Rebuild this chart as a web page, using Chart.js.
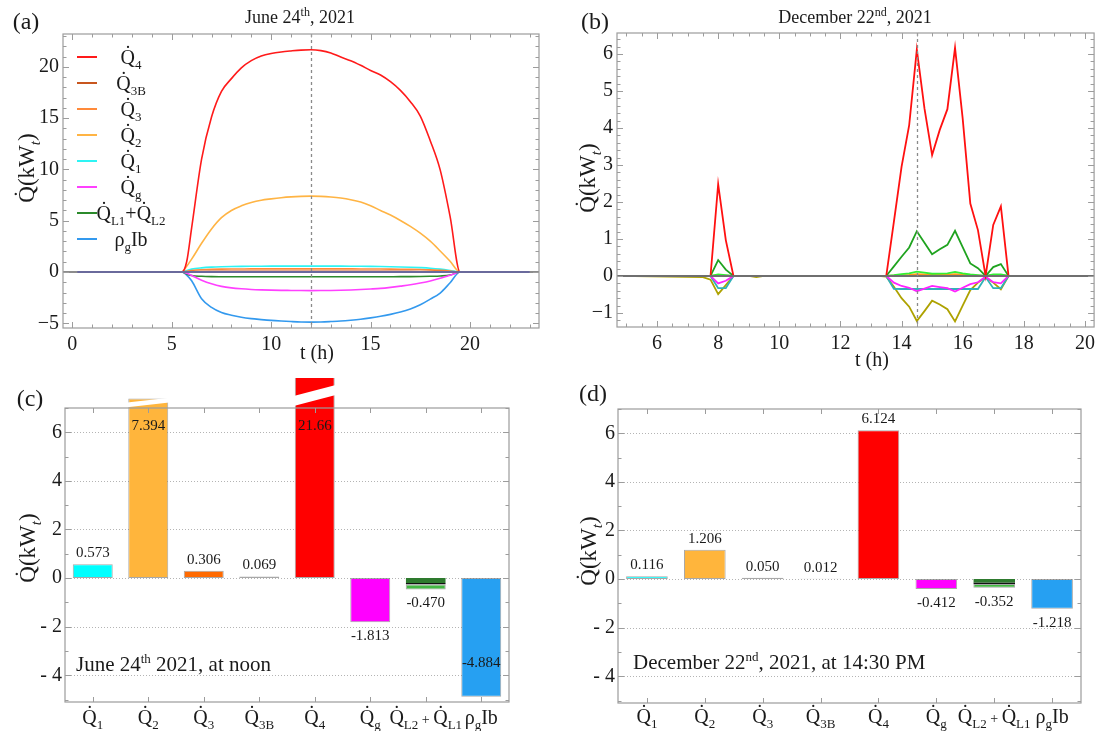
<!DOCTYPE html>
<html>
<head>
<meta charset="utf-8">
<title>Heat flows</title>
<script src="https://cdn.jsdelivr.net/npm/chart.js@4.4.1/dist/chart.umd.min.js"></script>
<style>
  html, body { margin: 0; padding: 0; background: #fff; overflow: hidden; }
  #page { position: relative; width: 1097px; height: 731px; overflow: hidden; }
  .pane { position: absolute; }
</style>
</head>
<body>
<div id="page">
  <div class="pane" style="left:0;top:0;width:555px;height:378px"><canvas id="chartA"></canvas></div>
  <div class="pane" style="left:555px;top:0;width:545px;height:378px"><canvas id="chartB"></canvas></div>
  <div class="pane" style="left:0;top:378px;width:555px;height:353px"><canvas id="chartC"></canvas></div>
  <div class="pane" style="left:555px;top:378px;width:545px;height:353px"><canvas id="chartD"></canvas></div>
</div>
<script>
// --- (a) June 24th, hourly profile ---
const timesA = [0.25, 5.5, 5.75, 6, 6.5, 7, 7.5, 8, 8.5, 9, 9.5, 10, 10.5, 11, 11.5, 12, 12.5, 13, 13.5, 14, 14.5, 15, 15.5, 16, 16.5, 17, 17.5, 18, 18.5, 19, 19.5, 23];
const q4A = [0, 0, 1.0, 4.3, 11.0, 15.1, 17.6, 18.85, 19.9, 20.6, 21.05, 21.3, 21.45, 21.55, 21.63, 21.66, 21.58, 21.35, 20.95, 20.6, 20.15, 19.65, 19.2, 18.55, 17.7, 16.6, 15.2, 12.8, 9.95, 5.4, 0, 0];
const q3bA = [0, 0, 0.02, 0.04, 0.055, 0.06, 0.063, 0.065, 0.066, 0.067, 0.068, 0.068, 0.069, 0.069, 0.069, 0.069, 0.069, 0.069, 0.068, 0.068, 0.067, 0.066, 0.065, 0.063, 0.06, 0.057, 0.053, 0.047, 0.038, 0.025, 0, 0];
const q3A = [0, 0, 0.08, 0.15, 0.22, 0.26, 0.28, 0.29, 0.295, 0.3, 0.302, 0.303, 0.304, 0.305, 0.306, 0.306, 0.305, 0.304, 0.302, 0.3, 0.297, 0.293, 0.288, 0.281, 0.272, 0.26, 0.24, 0.21, 0.16, 0.09, 0, 0];
const q2A = [0, 0, 0.55, 1.25, 2.8, 4.2, 5.3, 6.0, 6.45, 6.78, 7.0, 7.13, 7.24, 7.32, 7.37, 7.394, 7.37, 7.31, 7.21, 7.05, 6.82, 6.45, 6.0, 5.55, 5.02, 4.44, 3.78, 3.0, 2.05, 1.05, 0, 0];
const q1A = [0, 0, 0.15, 0.28, 0.4, 0.47, 0.51, 0.535, 0.55, 0.558, 0.563, 0.567, 0.57, 0.572, 0.573, 0.573, 0.572, 0.57, 0.567, 0.562, 0.555, 0.545, 0.532, 0.515, 0.493, 0.465, 0.425, 0.37, 0.28, 0.15, 0, 0];
const qgA = [0, 0, -0.13, -0.35, -0.8, -1.15, -1.4, -1.55, -1.64, -1.7, -1.74, -1.77, -1.79, -1.8, -1.81, -1.813, -1.81, -1.8, -1.78, -1.75, -1.71, -1.66, -1.6, -1.5, -1.38, -1.25, -1.08, -0.88, -0.62, -0.32, 0, 0];
const qlA = [0, 0, -0.2, -0.35, -0.42, -0.45, -0.46, -0.465, -0.468, -0.469, -0.47, -0.47, -0.47, -0.47, -0.47, -0.47, -0.47, -0.47, -0.47, -0.469, -0.468, -0.466, -0.464, -0.46, -0.455, -0.45, -0.44, -0.42, -0.39, -0.3, 0, 0];
const rhoA = [0, 0, -0.3, -0.85, -2.6, -3.45, -3.95, -4.22, -4.42, -4.55, -4.64, -4.72, -4.78, -4.83, -4.87, -4.884, -4.87, -4.83, -4.78, -4.7, -4.6, -4.47, -4.32, -4.13, -3.9, -3.6, -3.2, -2.65, -2.05, -1.05, 0, 0];
const namesA = ["Q\u0307_{4}", "Q\u0307_{3B}", "Q\u0307_{3}", "Q\u0307_{2}", "Q\u0307_{1}", "Q\u0307_{g}", "Q\u0307_{L1}+Q\u0307_{L2}", "\u03c1_{g}Ib"];

// --- (b) December 22nd, hourly profile ---
const timesB = [4.7, 7.5, 7.75, 8, 8.25, 8.5, 9, 9.25, 9.5, 13.25, 13.5, 13.75, 14, 14.25, 14.5, 14.75, 15, 15.25, 15.5, 15.75, 16, 16.25, 16.5, 16.75, 17, 17.25, 17.5, 20.3];
const q4B = [0, 0, 0, 2.48, 0.97, 0, 0, 0, 0, 0, 0, 1.47, 2.95, 4.08, 6.12, 4.53, 3.27, 3.95, 4.51, 6.17, 4.26, 1.96, 1.24, 0, 1.38, 1.88, 0, 0];
const q2B = [0, 0, 0, 0.43, 0.17, 0, 0, 0, 0, 0, 0, 0.26, 0.52, 0.77, 1.21, 0.9, 0.59, 0.72, 0.84, 1.22, 0.78, 0.34, 0.21, 0, 0.24, 0.32, 0, 0];
const q1B = [0, 0, 0, 0.04, 0.02, 0, 0, 0, 0, 0, 0, 0.02, 0.05, 0.07, 0.116, 0.09, 0.06, 0.065, 0.07, 0.11, 0.07, 0.04, 0.02, 0, 0.04, 0.045, 0, 0];
const q3B = [0, 0, 0, 0.015, 0.008, 0, 0, 0, 0, 0, 0, 0.01, 0.02, 0.03, 0.05, 0.04, 0.03, 0.032, 0.035, 0.05, 0.035, 0.02, 0.01, 0, 0.015, 0.02, 0, 0];
const qgB = [0, 0, 0, -0.2, -0.13, 0, 0, 0, 0, 0, 0, -0.18, -0.27, -0.32, -0.412, -0.34, -0.27, -0.3, -0.33, -0.42, -0.32, -0.22, -0.17, -0.02, -0.17, -0.2, 0, 0];
const qlB = [0, 0, 0, -0.33, -0.33, 0, 0, 0, 0, 0, 0, -0.35, -0.352, -0.352, -0.352, -0.352, -0.352, -0.352, -0.352, -0.352, -0.352, -0.352, -0.352, -0.03, -0.33, -0.33, 0, 0];
const rhoB = [0, -0.03, -0.1, -0.49, -0.25, 0, 0, -0.03, 0, 0, -0.02, -0.29, -0.6, -0.83, -1.218, -0.95, -0.67, -0.77, -0.9, -1.23, -0.8, -0.38, -0.18, -0.04, -0.18, -0.36, 0, 0];
const namesB = ["Q\u0307_{4}", "Q\u0307_{2}", "Q\u0307_{1}", "Q\u0307_{3}", "Q\u0307_{g}", "Q\u0307_{L1}+Q\u0307_{L2}", "\u03c1_{g}Ib"];

// --- (c), (d) bar charts ---
const catNames = ["Q\u0307_{1}", "Q\u0307_{2}", "Q\u0307_{3}", "Q\u0307_{3B}", "Q\u0307_{4}", "Q\u0307_{g}", "Q\u0307_{L2}~{ + }Q\u0307_{L1}", "\u03c1_{g}Ib"];
const junNoon = [0.573, 7.394, 0.306, 0.069, 21.66, -1.813, -0.470, -4.884];
const junLoss = [-0.26, -0.21];   // L2, L1 parts of the loss bar
const decPeak = [0.116, 1.206, 0.050, 0.012, 6.124, -0.412, -0.352, -1.218];
const decLoss = [-0.2, -0.152];

const SERIF = '"Liberation Serif", "Times New Roman", serif';
Chart.defaults.font.family = SERIF;

const colorsA = ['#ff1a1a', '#c8561e', '#ff8a3a', '#ffb444', '#2ef4f4', '#ff40ff', '#2b8a2b', '#3399ee'];
const colorsB = ['#ff1010', '#1fa31f', '#33f033', '#ff9a1a', '#ff22ff', '#2fb2b8', '#aea200'];
const barColors = ['#00ffff', '#ffb53c', '#ff6a00', '#c4520f', '#ff0000', '#ff00ff', '#2e7a2e', '#26a0f2'];
const LOSS = 6; // index of the stacked loss bar

function isMajor(v, step) {
  const r = v / step;
  return Math.abs(r - Math.round(r)) < 1e-6;
}
function minus(v) { return v < 0 ? '\u2212' + Math.round(-v * 100) / 100 : String(Math.round(v * 100) / 100); }
function minusSpaced(v) { return v < 0 ? '- ' + (-v) : String(v); }
function fmtVal(v) { return Math.abs(v) >= 10 ? v.toFixed(2) : v.toFixed(3); }

// little markup: _{sub}  ^{sup}  /{italic sub}  ~{small}
function richParts(s) {
  const parts = [];
  const re = /([_^\/~])\{([^}]*)\}|[^_^\/~]+/g;
  let m;
  while ((m = re.exec(s)) !== null) {
    parts.push(m[1] ? { t: m[2], k: m[1] } : { t: m[0], k: '' });
  }
  return parts;
}
function drawRich(ctx, s, x, y, size, align) {
  const parts = richParts(s);
  let w = 0;
  parts.forEach(p => {
    const sz = p.k === '~' ? size * 0.72 : (p.k ? size * 0.64 : size);
    p.font = (p.k === '/' ? 'italic ' : '') + Math.round(sz) + 'px ' + SERIF;
    ctx.font = p.font;
    p.w = ctx.measureText(p.t).width;
    w += p.w;
  });
  let cx = align === 'center' ? x - w / 2 : x;
  ctx.textAlign = 'left';
  ctx.textBaseline = 'alphabetic';
  parts.forEach(p => {
    ctx.font = p.font;
    let dy = 0;
    if (p.k === '^') dy = -size * 0.4;
    else if (p.k === '_' || p.k === '/') dy = size * 0.25;
    ctx.fillText(p.t, cx, y + dy);
    cx += p.w;
  });
}

// frame, ticks and all the texts (Mathematica look)
function framePlugin(cfg) {
  return {
    id: 'frame',
    beforeDatasetsDraw(chart) {
      if (!cfg.grid) return;
      const { ctx, chartArea: a, scales: { y } } = chart;
      ctx.save();
      ctx.strokeStyle = '#b4b4b4';
      ctx.lineWidth = 1;
      ctx.setLineDash([1, 2]);
      y.ticks.forEach(t => {
        if (!isMajor(t.value, cfg.yMajor)) return;
        const py = Math.round(y.getPixelForValue(t.value)) + 0.5;
        ctx.beginPath(); ctx.moveTo(a.left, py); ctx.lineTo(a.right, py); ctx.stroke();
      });
      ctx.restore();
    },
    afterDatasetsDraw(chart) {
      const { ctx, chartArea: a, scales: { x, y } } = chart;
      ctx.save();
      if (cfg.zero) {
        const py = y.getPixelForValue(0);
        ctx.lineWidth = 2;
        ctx.strokeStyle = cfg.zero;
        ctx.beginPath(); ctx.moveTo(a.left, py); ctx.lineTo(a.right, py); ctx.stroke();
        if (cfg.zeroSpan) {
          ctx.strokeStyle = cfg.zeroSpanColor;
          ctx.beginPath();
          ctx.moveTo(x.getPixelForValue(cfg.zeroSpan[0]), py);
          ctx.lineTo(x.getPixelForValue(cfg.zeroSpan[1]), py);
          ctx.stroke();
        }
      }
      if (cfg.marker !== undefined) {
        const px = Math.round(x.getPixelForValue(cfg.marker)) + 0.5;
        ctx.strokeStyle = '#8a8a8a';
        ctx.lineWidth = 1.3;
        ctx.setLineDash([3, 3]);
        ctx.beginPath(); ctx.moveTo(px, a.top); ctx.lineTo(px, a.bottom); ctx.stroke();
        ctx.setLineDash([]);
      }
      if (cfg.breaks) {
        // white slash on bars running off the top
        ctx.fillStyle = '#fff';
        chart.getDatasetMeta(0).data.forEach(bar => {
          const top = Math.max(bar.y, 0);
          if (top >= a.top) return;
          const h = a.top - top;
          const th = Math.min(h * 0.5, 10), rise = Math.min(h * 0.5, 11);
          const lb = a.top - 0.07 * h;
          const L = bar.x - bar.width / 2 - 1, R = bar.x + bar.width / 2 + 1;
          ctx.beginPath();
          ctx.moveTo(L, lb); ctx.lineTo(R, lb - rise); ctx.lineTo(R, lb - rise - th); ctx.lineTo(L, lb - th);
          ctx.closePath(); ctx.fill();
        });
      }
      ctx.strokeStyle = '#9c9c9c';
      ctx.lineWidth = 1.2;
      ctx.strokeRect(a.left, a.top, a.right - a.left, a.bottom - a.top);
      ctx.lineWidth = 1;
      const tick = (x0, y0, x1, y1) => { ctx.beginPath(); ctx.moveTo(x0, y0); ctx.lineTo(x1, y1); ctx.stroke(); };
      if (cfg.cats) {
        chart.data.labels.forEach((_, i) => {
          const px = Math.round(x.getPixelForValue(i)) + 0.5;
          tick(px, a.bottom, px, a.bottom - 5);
          tick(px, a.top, px, a.top + 5);
        });
      } else {
        x.ticks.forEach(t => {
          const len = isMajor(t.value, cfg.xMajor) ? 6 : 3.5;
          const px = Math.round(x.getPixelForValue(t.value)) + 0.5;
          tick(px, a.bottom, px, a.bottom - len);
          tick(px, a.top, px, a.top + len);
        });
      }
      y.ticks.forEach(t => {
        const len = isMajor(t.value, cfg.yMajor) ? 6 : 3.5;
        const py = Math.round(y.getPixelForValue(t.value)) + 0.5;
        tick(a.left, py, a.left + len, py);
        tick(a.right, py, a.right - len, py);
      });
      ctx.restore();
    },
    afterDraw(chart) {
      const { ctx, chartArea: a, scales: { x, y } } = chart;
      ctx.save();
      ctx.fillStyle = '#1a1a1a';
      ctx.font = '24px ' + SERIF;
      ctx.textAlign = 'center';
      ctx.textBaseline = 'alphabetic';
      ctx.fillText(cfg.letter.t, cfg.letter.x, cfg.letter.y);
      if (cfg.title) drawRich(ctx, cfg.title.t, cfg.title.x, cfg.title.y, 18, 'center');
      ctx.save();
      ctx.translate(cfg.yTitle.x, cfg.yTitle.y);
      ctx.rotate(-Math.PI / 2);
      drawRich(ctx, 'Q\u0307(kW/{t})', 0, 7, 23, 'center');
      ctx.restore();
      if (cfg.xTitle) drawRich(ctx, 't (h)', cfg.xTitle.x, cfg.xTitle.y, 20, 'center');
      if (cfg.legend) {
        const L = cfg.legend;
        chart.data.datasets.forEach((ds, i) => {
          const ly = L.y0 + i * L.dy;
          ctx.strokeStyle = ds.borderColor;
          ctx.lineWidth = 2;
          ctx.beginPath(); ctx.moveTo(L.x0, ly); ctx.lineTo(L.x1, ly); ctx.stroke();
          drawRich(ctx, ds.label, L.lx, ly + 6.5, 20, 'center');
        });
      }
      if (cfg.cats) {
        chart.data.labels.forEach((lab, i) => {
          drawRich(ctx, lab, x.getPixelForValue(i), cfg.catY, 20, 'center');
        });
      }
      if (cfg.values) {
        ctx.font = '15px ' + SERIF;
        ctx.textAlign = 'center';
        ctx.textBaseline = 'middle';
        cfg.values.forEach((v, i) => {
          const px = x.getPixelForValue(i);
          const py = y.getPixelForValue(v);
          let ly;
          if (v >= 0) ly = py < a.top ? a.top + 18 : py - 11;
          else ly = py + 14 > a.bottom - 10 ? py - 34 : py + 14;
          ctx.fillText(fmtVal(v), px, ly);
        });
      }
      if (cfg.note) drawRich(ctx, cfg.note.t, cfg.note.x, cfg.note.y, 21, 'left');
      ctx.restore();
    }
  };
}

function numAxis(min, max, step, major, fmt, fit) {
  return {
    type: 'linear', min: min, max: max,
    grid: { display: false, drawTicks: false },
    border: { display: false },
    ticks: {
      stepSize: step, includeBounds: false, autoSkip: false,
      maxRotation: 0, minRotation: 0, padding: fit.pad,
      color: '#1a1a1a', font: { family: SERIF, size: 20 },
      callback: v => isMajor(v, major) ? fmt(v) : ''
    },
    afterFit: s => { if (fit.w) s.width = fit.w; if (fit.h) s.height = fit.h; }
  };
}

function baseOptions(padding) {
  return {
    responsive: true, maintainAspectRatio: false, animation: false, devicePixelRatio: 1,
    events: [],
    layout: { autoPadding: false, padding: padding },
    plugins: { legend: { display: false }, tooltip: { enabled: false } }
  };
}

// (a)
const seriesA = [q4A, q3bA, q3A, q2A, q1A, qgA, qlA, rhoA];
new Chart(document.getElementById('chartA'), {
  type: 'line',
  data: {
    datasets: seriesA.map((vals, i) => ({
      label: namesA[i],
      data: timesA.map((t, k) => ({ x: t, y: vals[k] })),
      borderColor: colorsA[i], borderWidth: 1.6, pointRadius: 0,
      cubicInterpolationMode: 'monotone', fill: false
    }))
  },
  options: Object.assign(baseOptions({ left: 0, top: 34, right: 16, bottom: 10 }), {
    scales: {
      x: numAxis(-0.47, 23.47, 1, 5, minus, { h: 40, pad: 5 }),
      y: numAxis(-5.46, 23.2, 1, 5, minus, { w: 63, pad: 4 })
    }
  }),
  plugins: [framePlugin({
    letter: { t: '(a)', x: 26, y: 29 },
    title: { t: 'June 24^{th}, 2021', x: 300, y: 23 },
    yTitle: { x: 27, y: 168 },
    xTitle: { x: 317, y: 359 },
    xMajor: 5, yMajor: 5,
    zero: '#8c8c8c', zeroSpan: [timesA[0], timesA[timesA.length - 1]], zeroSpanColor: '#6a6a9c',
    marker: 12,
    legend: { x0: 77, x1: 97, lx: 131, y0: 57, dy: 26 }
  })]
});

// (b)
const seriesB = [q4B, q2B, q1B, q3B, qgB, qlB, rhoB];
new Chart(document.getElementById('chartB'), {
  type: 'line',
  data: {
    datasets: seriesB.map((vals, i) => ({
      label: namesB[i],
      data: timesB.map((t, k) => ({ x: t, y: vals[k] })),
      borderColor: colorsB[i], borderWidth: 1.8, pointRadius: 0, tension: 0, fill: false
    }))
  },
  options: Object.assign(baseOptions({ left: 0, top: 33, right: 4, bottom: 11 }), {
    scales: {
      x: numAxis(4.69, 20.3, 0.5, 2, minus, { h: 40, pad: 5 }),
      y: numAxis(-1.38, 6.57, 0.2, 1, minus, { w: 62, pad: 4 })
    }
  }),
  plugins: [framePlugin({
    letter: { t: '(b)', x: 40, y: 29 },
    title: { t: 'December 22^{nd}, 2021', x: 300, y: 23 },
    yTitle: { x: 33, y: 178 },
    xTitle: { x: 317, y: 366 },
    xMajor: 2, yMajor: 1,
    zero: '#6f6f6f',
    marker: 14.5
  })]
});

// (c), (d)
function barChart(id, values, loss, padding, fit, cfg) {
  const main = values.map((v, i) => i === LOSS ? loss[0] : v);
  const rest = values.map((v, i) => i === LOSS ? loss[1] : null);
  return new Chart(document.getElementById(id), {
    type: 'bar',
    data: {
      labels: catNames,
      datasets: [
        {
          data: main,
          backgroundColor: barColors,
          borderColor: c => c.dataIndex === LOSS ? '#111' : 'rgba(110,110,110,0.6)',
          borderWidth: c => c.dataIndex === LOSS ? { top: 0, right: 0, bottom: 1.5, left: 0 } : 1,
          borderSkipped: false,
          barPercentage: 0.72, categoryPercentage: 1,
          clip: false
        },
        {
          data: rest,
          backgroundColor: '#44b844',
          borderColor: 'rgba(110,110,110,0.6)', borderWidth: 1, borderSkipped: false,
          barPercentage: 0.72, categoryPercentage: 1
        }
      ]
    },
    options: Object.assign(baseOptions(padding), {
      scales: {
        x: {
          type: 'category', stacked: true, offset: true,
          grid: { display: false, drawTicks: false }, border: { display: false },
          ticks: { display: false },
          afterFit: s => { s.height = fit.h; }
        },
        y: Object.assign(numAxis(-5.1, 7, 1, 2, minusSpaced, { w: fit.w, pad: 3 }), { stacked: true })
      }
    }),
    plugins: [framePlugin(cfg)]
  });
}

barChart('chartC', junNoon, junLoss, { left: 0, top: 30, right: 46, bottom: 0 }, { w: 65, h: 29 }, {
  letter: { t: '(c)', x: 30, y: 28 },
  yTitle: { x: 28, y: 170 },
  yMajor: 2, grid: true, cats: true, catY: 346, breaks: true,
  values: junNoon,
  note: { t: 'June 24^{th} 2021, at noon', x: 76, y: 293 }
});

barChart('chartD', decPeak, decLoss, { left: 0, top: 31, right: 19, bottom: 0 }, { w: 63, h: 28 }, {
  letter: { t: '(d)', x: 38, y: 23 },
  yTitle: { x: 34, y: 173 },
  yMajor: 2, grid: true, cats: true, catY: 345,
  values: decPeak,
  note: { t: 'December 22^{nd}, 2021, at 14:30 PM', x: 78, y: 291 }
});
</script>
</body>
</html>
